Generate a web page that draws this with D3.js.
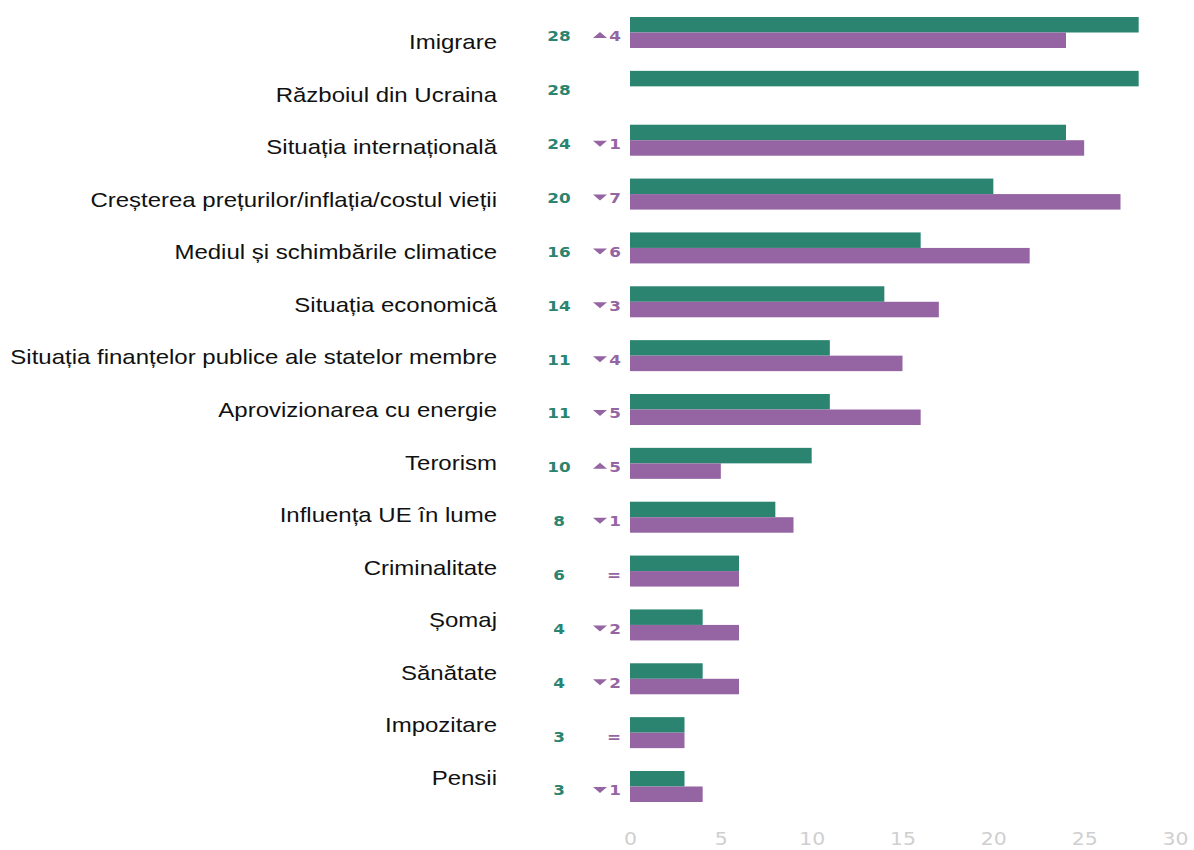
<!DOCTYPE html>
<meta charset="utf-8">
<script src="https://d3js.org/d3.v7.min.js"></script>
<style>
  body { margin: 0; background: #fff; }
</style>
<div id="chart"></div>
<script>

// Data
var categories = ["Imigrare", "Războiul din Ucraina", "Situația internațională",
  "Creșterea prețurilor/inflația/costul vieții", "Mediul și schimbările climatice",
  "Situația economică", "Situația finanțelor publice ale statelor membre",
  "Aprovizionarea cu energie", "Terorism", "Influența UE în lume", "Criminalitate",
  "Șomaj", "Sănătate", "Impozitare", "Pensii"];
var current  = [28, 28, 24, 20, 16, 14, 11, 11, 10, 8, 6, 4, 4, 3, 3];
var previous = [24, null, 25, 27, 22, 17, 15, 16, 5, 9, 6, 6, 6, 3, 4];
var xTicks = [0, 5, 10, 15, 20, 25, 30];

var green = "#2a8470", purple = "#9565a3";
var stretch = 1.2; // original picture is widened horizontally

var W = 1194, H = 850;
var svg = d3.select("#chart").append("svg")
    .attr("width", W).attr("height", H);

var x = d3.scaleLinear().domain([0, 30]).range([630, 1175]);

// rows for bars
var y = d3.scaleBand().domain(categories).range([17, 802])
    .paddingInner(0.4244).paddingOuter(0);
// rows for category names (slightly different pitch in original)
var yLab = d3.scalePoint().domain(categories).range([42, 778]);

var rows = categories.map(function(c, i) {
  return {cat: c, cur: current[i], prev: previous[i]};
});

var half = y.bandwidth() / 2;

// green bars
svg.append("g").selectAll("rect")
  .data(rows).enter().append("rect")
    .attr("x", x(0))
    .attr("y", function(d) { return y(d.cat); })
    .attr("width", function(d) { return x(d.cur) - x(0); })
    .attr("height", half)
    .attr("fill", green);

// purple bars
svg.append("g").selectAll("rect")
  .data(rows.filter(function(d) { return d.prev != null; })).enter().append("rect")
    .attr("x", x(0))
    .attr("y", function(d) { return y(d.cat) + half; })
    .attr("width", function(d) { return x(d.prev) - x(0); })
    .attr("height", half)
    .attr("fill", purple);

// category labels
svg.append("g").selectAll("text")
  .data(rows).enter().append("text")
    .attr("transform", function(d) { return "translate(497," + yLab(d.cat) + ") scale(" + stretch + ",1)"; })
    .attr("dy", "0.35em")
    .attr("text-anchor", "end")
    .style("font-family", "Liberation Sans, Arial, sans-serif")
    .style("font-size", "20px")
    .style("fill", "#111")
    .text(function(d) { return d.cat; });

// value labels
svg.append("g").selectAll("text")
  .data(rows).enter().append("text")
    .attr("transform", function(d) { return "translate(559," + (y(d.cat) + half + 4) + ") scale(" + stretch + ",1)"; })
    .attr("dy", "0.35em")
    .attr("text-anchor", "middle")
    .style("font-family", "DejaVu Sans, Verdana, sans-serif")
    .style("font-weight", "bold")
    .style("font-size", "14px")
    .style("fill", green)
    .text(function(d) { return d.cur; });

// change labels
var chg = svg.append("g").selectAll("g")
  .data(rows.filter(function(d) { return d.prev != null; })).enter().append("g")
    .attr("transform", function(d) { return "translate(0," + (y(d.cat) + half + 4) + ")"; });

chg.append("text")
    .attr("transform", "translate(621,0) scale(" + stretch + ",1)")
    .attr("dy", "0.35em")
    .attr("text-anchor", "end")
    .style("font-family", "DejaVu Sans, Verdana, sans-serif")
    .style("font-weight", "bold")
    .style("font-size", "14px")
    .style("fill", purple)
    .text(function(d) {
      var diff = d.cur - d.prev;
      return diff === 0 ? "=" : Math.abs(diff);
    });

chg.filter(function(d) { return d.cur !== d.prev; })
  .append("path")
    .attr("d", function(d) {
      var up = d.cur > d.prev;
      return up ? "M593,1.5 L607,1.5 L600,-4.5 Z" : "M593,-3.5 L607,-3.5 L600,2.5 Z";
    })
    .attr("fill", purple);

// x axis
var xAxis = svg.append("g")
    .attr("transform", "translate(0,831)")
    .call(d3.axisBottom(x).tickValues(xTicks).tickSize(0).tickPadding(2));
xAxis.select(".domain").remove();
xAxis.selectAll(".tick text")
    .attr("transform", "scale(" + stretch + ",1)")
    .attr("x", 0)
    .style("font-family", "DejaVu Sans, Verdana, sans-serif")
    .style("font-size", "17px")
    .style("fill", "#cfcfcf");

</script>
